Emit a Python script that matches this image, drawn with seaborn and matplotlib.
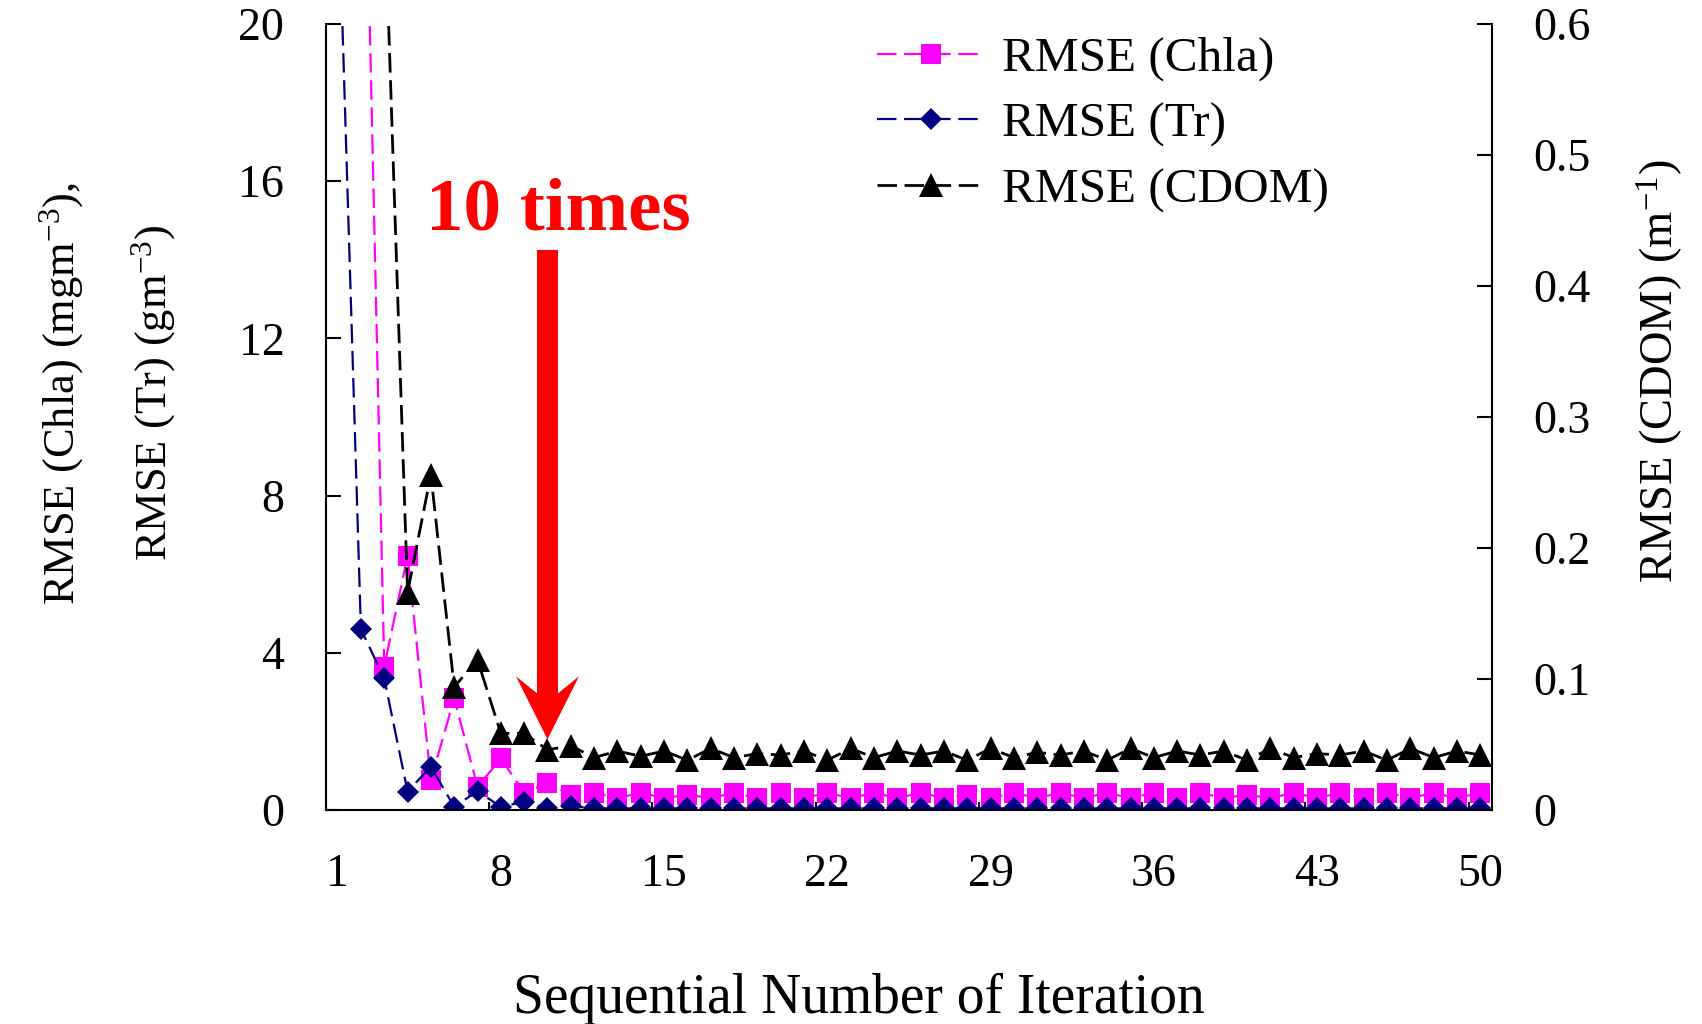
import matplotlib
matplotlib.use("Agg")
import matplotlib.pyplot as plt
import pandas as pd
import seaborn as sns
from matplotlib.ticker import FixedLocator, FixedFormatter

# Iteration index and RMSE of each retrieved parameter
iteration = list(range(1, 51))

rmse_chla = [38.0, 30.0, 3.65, 6.46, 0.76, 2.84, 0.59, 1.31, 0.44, 0.68,
             0.39, 0.44, 0.30, 0.44, 0.30, 0.39, 0.30, 0.44, 0.30, 0.44,
             0.30, 0.44, 0.30, 0.44, 0.30, 0.44, 0.30, 0.39, 0.30, 0.44,
             0.30, 0.44, 0.30, 0.44, 0.30, 0.44, 0.30, 0.44, 0.30, 0.39,
             0.30, 0.44, 0.30, 0.44, 0.30, 0.44, 0.30, 0.44, 0.30, 0.44]

rmse_tr = [24.0, 4.60, 3.35, 0.47, 1.10, 0.08, 0.48, 0.08, 0.21, 0.04,
           0.10, 0.04, 0.04, 0.04, 0.04, 0.04, 0.04, 0.04, 0.04, 0.04,
           0.04, 0.04, 0.04, 0.04, 0.04, 0.04, 0.04, 0.04, 0.04, 0.04,
           0.04, 0.04, 0.04, 0.04, 0.04, 0.04, 0.04, 0.04, 0.04, 0.04,
           0.04, 0.04, 0.04, 0.04, 0.04, 0.04, 0.04, 0.04, 0.04, 0.04]

rmse_cdom = [1.20, 0.95, 0.70, 0.166, 0.256, 0.094, 0.1145, 0.0585, 0.0585, 0.046,
             0.049, 0.040, 0.045, 0.041, 0.045, 0.038, 0.047, 0.040, 0.043, 0.042,
             0.045, 0.038, 0.047, 0.040, 0.045, 0.042, 0.045, 0.038, 0.047, 0.040,
             0.044, 0.042, 0.045, 0.038, 0.047, 0.040, 0.045, 0.042, 0.045, 0.038,
             0.047, 0.040, 0.043, 0.042, 0.045, 0.038, 0.047, 0.040, 0.045, 0.042]

x_ticks = [1, 8, 15, 22, 29, 36, 43, 50]
left_ticks = [0, 4, 8, 12, 16, 20]
right_ticks = [0, 0.1, 0.2, 0.3, 0.4, 0.5, 0.6]
right_tick_labels = ["0", "0.1", "0.2", "0.3", "0.4", "0.5", "0.6"]

# Convergence marker: iteration and arrow span on the left axis
stop_iteration = 10
arrow_top, arrow_tip = 14.25, 1.80

sns.set_theme(style="white")
plt.rcParams["font.family"] = ["Liberation Serif", "DejaVu Serif"]
plt.rcParams["text.color"] = "black"
plt.rcParams["mathtext.fontset"] = "custom"
plt.rcParams["mathtext.rm"] = "Liberation Serif"
plt.rcParams["mathtext.it"] = "Liberation Serif:italic"
plt.rcParams["mathtext.bf"] = "Liberation Serif:bold"

df = pd.DataFrame({"iteration": iteration, "chla": rmse_chla,
                   "tr": rmse_tr, "cdom": rmse_cdom})

fig = plt.figure(figsize=(17.02, 10.24), dpi=100)
ax = fig.add_axes([0.1915, 0.209, 0.6851, 0.7676])
ax2 = ax.twinx()


def draw(axis, col, color, marker, msize, lw, label):
    sns.lineplot(data=df, x="iteration", y=col, ax=axis, color=color,
                 marker=marker, markersize=msize, markeredgecolor=color,
                 markeredgewidth=0, linewidth=lw, label=label, legend=False)
    line = axis.lines[-1]
    line.set_linestyle((0, (14.0 / lw, 5.5 / lw)))
    return line


h_chla = draw(ax, "chla", "#FF00FF", "s", 15, 1.6, "RMSE (Chla)")
h_tr = draw(ax, "tr", "#000080", "D", 10.8, 1.6, "RMSE (Tr)")
h_cdom = draw(ax2, "cdom", "black", "^", 17, 2.0, "RMSE (CDOM)")

ax.set_xlim(0.5, 50.5)
ax.set_ylim(0, 20)
ax2.set_ylim(0, 0.6)

# x axis: labels on the iterations, tick marks between categories
ax.xaxis.set_major_locator(FixedLocator(x_ticks))
ax.xaxis.set_minor_locator(FixedLocator([t - 0.5 for t in x_ticks]))
ax.tick_params(axis="x", which="major", bottom=True, length=0, pad=31,
               labelsize=33, labelcolor="black")
ax.tick_params(axis="x", which="minor", bottom=True, direction="in",
               length=6, width=1.5, color="black")

ax.yaxis.set_major_locator(FixedLocator(left_ticks))
ax.tick_params(axis="y", which="major", left=True, direction="in",
               length=10.8, width=1.5, pad=30, labelsize=33,
               color="black", labelcolor="black")

ax2.yaxis.set_major_locator(FixedLocator(right_ticks))
ax2.yaxis.set_major_formatter(FixedFormatter(right_tick_labels))
ax2.tick_params(axis="y", which="major", right=True, direction="in",
                length=10.8, width=1.5, pad=30, labelsize=33,
                color="black", labelcolor="black")

for a in (ax, ax2):
    a.spines["top"].set_visible(False)
    for s in ("left", "right", "bottom"):
        a.spines[s].set_color("black")
        a.spines[s].set_linewidth(1.5)
ax.spines["right"].set_visible(False)
ax2.spines["left"].set_visible(False)
ax2.spines["bottom"].set_visible(False)
ax.grid(False)
ax2.grid(False)

ax.set_xlabel("Sequential Number of Iteration", fontsize=40, color="black",
              va="center")
ax.xaxis.set_label_coords(0.457, -0.24)
ax.set_ylabel("RMSE (Chla) (mgm$^{-3}$),\nRMSE (Tr) (gm$^{-3}$)",
              fontsize=32, color="black", va="center", ha="center",
              linespacing=2.2)
ax.yaxis.set_label_coords(-0.187, 0.53)
ax2.set_ylabel("RMSE (CDOM) (m$^{-1}$)", fontsize=33.5, color="black",
               va="center")
ax2.yaxis.set_label_coords(1.144, 0.5585)

# Arrow and note marking the iteration where the retrieval settles
ax.arrow(stop_iteration, arrow_top, 0, arrow_tip - arrow_top, width=0.9,
         head_width=2.7, head_length=1.6, overhang=0.27,
         length_includes_head=True, fc="#FF0000", ec="none", zorder=5)
ax.text(stop_iteration + 0.48, 14.76, "10 times", color="#FF0000",
        fontsize=54, fontweight="bold", ha="center", va="baseline", zorder=6)

ax2.legend([h_chla, h_tr, h_cdom],
           ["RMSE (Chla)", "RMSE (Tr)", "RMSE (CDOM)"],
           loc="upper left", bbox_to_anchor=(0.4726, 0.984), frameon=False,
           fontsize=35.5, handlelength=2.2, handletextpad=0.33,
           labelspacing=0.42, borderpad=0, borderaxespad=0,
           labelcolor="black")

fig.savefig("out.png", dpi=100)
